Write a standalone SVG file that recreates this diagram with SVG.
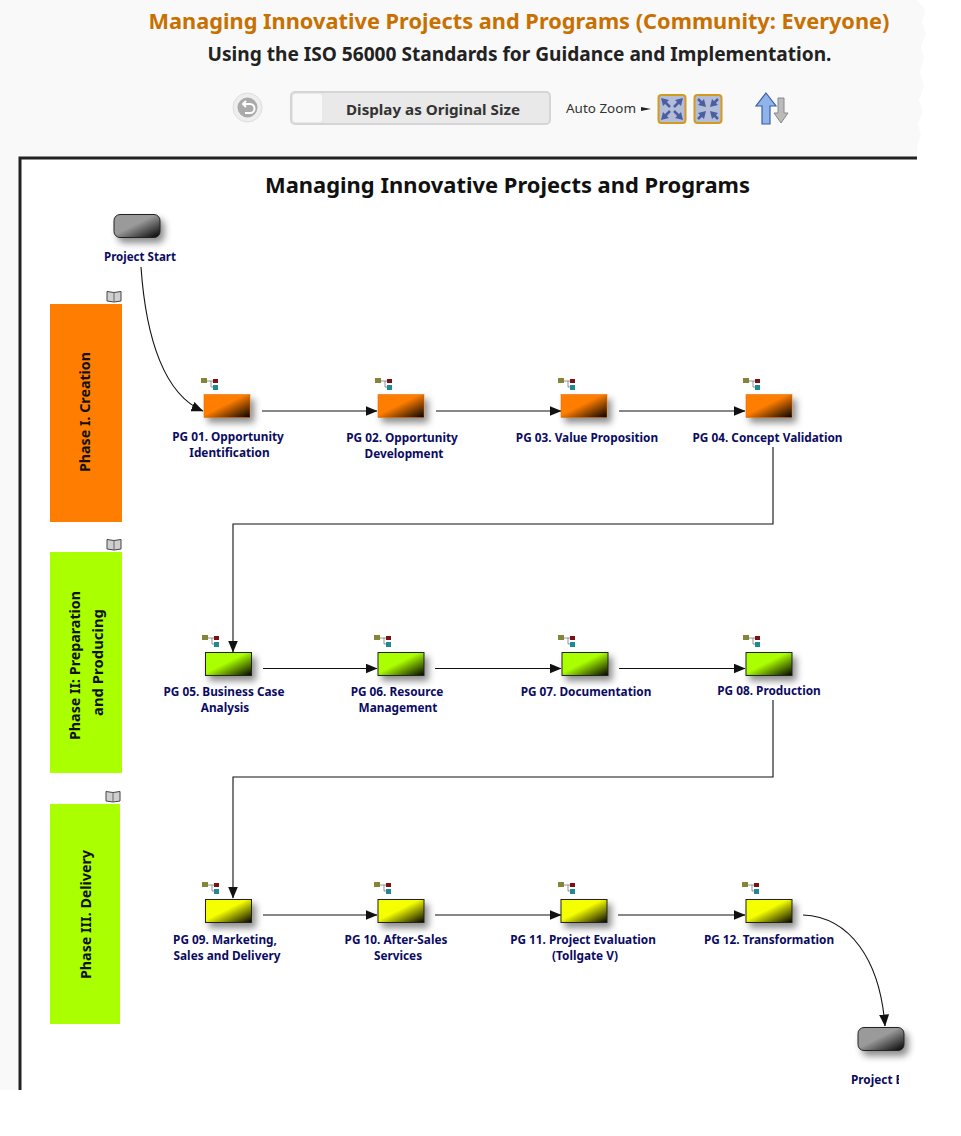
<svg xmlns="http://www.w3.org/2000/svg" width="961" height="1136" viewBox="0 0 961 1136">
<style>
.lbl{font:bold 11.800px "Noto Sans","DejaVu Sans",sans-serif;fill:#0b0b62;text-anchor:middle}
.ph{font:bold 14.500px "Noto Sans","DejaVu Sans",sans-serif;fill:#111;text-anchor:middle}
.c{fill:none;stroke:#111;stroke-width:1.1;marker-end:url(#ah)}
.n{stroke:#222;stroke-width:1;filter:url(#sh)}
.o{stroke:#d86a00;stroke-width:.5;filter:url(#sh)}
</style>
<defs>
<marker id="ah" viewBox="0 0 12 10" refX="11.500" refY="5" markerWidth="12" markerHeight="10" markerUnits="userSpaceOnUse" orient="auto"><path d="M0 0L12 5L0 10Z" fill="#111"/></marker>
<filter id="sh" x="-30%" y="-30%" width="170%" height="190%"><feDropShadow dx="4" dy="5" stdDeviation="3.500" flood-color="#000" flood-opacity=".45"/></filter>
<linearGradient id="go" x1="0" y1="0" x2="1" y2="1"><stop offset=".45" stop-color="#ff7d00"/><stop offset="1" stop-color="#000"/></linearGradient>
<linearGradient id="gg" x1="0" y1="0" x2="1" y2="1"><stop offset=".45" stop-color="#aaff00"/><stop offset="1" stop-color="#000"/></linearGradient>
<linearGradient id="gy" x1="0" y1="0" x2="1" y2="1"><stop offset=".45" stop-color="#f5ff00"/><stop offset="1" stop-color="#000"/></linearGradient>
<linearGradient id="gk" x1="0" y1="0" x2="1" y2="1"><stop offset=".45" stop-color="#9a9a9a"/><stop offset="1" stop-color="#000"/></linearGradient>
<g id="tree"><path d="M5 3H10V9H12M10 3H12" fill="none" stroke="#777" stroke-width=".8"/><rect x="0" y="0" width="6" height="5" fill="#85853a"/><rect x="12" y="1" width="5" height="4" fill="#7d1010"/><rect x="12" y="7" width="5" height="5" fill="#1f8a8f"/></g>
<g id="book"><path d="M0 1.500L7 2.500L14 1.500V11L7 12L0 11Z" fill="#cfcfcf" stroke="#444"/><path d="M7 2.500V12" stroke="#666"/></g>
</defs>
<path d="M0 0H917L925 10L922 22L926 34L921 46L924 58L920 72L924 86L919 100L923 112L918 124L921 136L917 146V160H22V1090H0Z" fill="#f9f9f9"/>
<path d="M20 1090V158H917" fill="none" stroke="#222" stroke-width="3"/>
<g id="header">
<text x="519" y="29" text-anchor="middle" style="font:bold 22px 'Noto Sans',sans-serif" fill="#c87000" textLength="741" lengthAdjust="spacingAndGlyphs">Managing Innovative Projects and Programs (Community: Everyone)</text>
<text x="519.500" y="61" text-anchor="middle" style="font:bold 19px 'Noto Sans',sans-serif" fill="#222" textLength="624" lengthAdjust="spacingAndGlyphs">Using the ISO 56000 Standards for Guidance and Implementation.</text>
<circle cx="247.500" cy="107.500" r="14.500" fill="#eee" stroke="#ddd"/><circle cx="247.500" cy="107.500" r="10" fill="#aaa"/><path d="M243 104H250A4.500 4.500 0 0 1 250 113H245M246 101L243 104L246 107" fill="none" stroke="#fff" stroke-width="2"/>
<rect x="291" y="92" width="259" height="32" rx="4" fill="#e9e9e9" stroke="#d5d5d5" stroke-width="2"/><rect x="293" y="94" width="29" height="28" rx="3" fill="#f8f8f8"/>
<text x="433" y="115" text-anchor="middle" style="font:bold 15px 'Noto Sans',sans-serif" fill="#333" textLength="174" lengthAdjust="spacingAndGlyphs">Display as Original Size</text>
<text x="601" y="113" text-anchor="middle" style="font:13px 'Noto Sans',sans-serif" fill="#333" textLength="70" lengthAdjust="spacingAndGlyphs">Auto Zoom</text>
<path d="M641 107L651 109L641 111Z" fill="#222"/>
<g id="zoom-in"><rect x="658.500" y="95" width="27" height="28" rx="3" fill="#b4bdd8" stroke="#d39a20" stroke-width="2"/><path d="M661 98L669 100L663 106ZM683 98L675 100L681 106ZM661 120L669 118L663 112ZM683 120L675 118L681 112Z" fill="#4b5fa0"/><path d="M664 101L670 107M680 101L674 107M664 117L670 111M680 117L674 111" stroke="#4b5fa0" stroke-width="2.500"/></g>
<g id="zoom-out"><rect x="694.500" y="95" width="27" height="28" rx="3" fill="#b4bdd8" stroke="#d39a20" stroke-width="2"/><path d="M706 107L698 105L704 99ZM710 107L718 105L712 99ZM706 111L698 113L704 119ZM710 111L718 113L712 119Z" fill="#4b5fa0"/><path d="M698 99L704 105M718 99L712 105M698 119L704 113M718 119L712 113" stroke="#4b5fa0" stroke-width="2.500"/></g>
<path d="M766 93L776 106H770V124H762V106H756Z" fill="#8fb4ea" stroke="#3a5ea8" stroke-width="1.200"/>
<path d="M778 98H784V113H788L781 123L774 113H778Z" fill="#bbb" stroke="#888" stroke-width="1"/>
</g>
<text x="507.500" y="193" text-anchor="middle" style="font:bold 21px 'Noto Sans',sans-serif" fill="#111" textLength="485" lengthAdjust="spacingAndGlyphs">Managing Innovative Projects and Programs</text>
<g id="connectors">
<path class="c" d="M141 267C146 340 165 395 203 411"/>
<path class="c" d="M262 411H377"/><path class="c" d="M436 411H561"/><path class="c" d="M619 411H745"/>
<path class="c" d="M773 447V524H233V652"/>
<path class="c" d="M263 668.500H377"/><path class="c" d="M435 668.500H561"/><path class="c" d="M619 668.500H745"/>
<path class="c" d="M773 700V777H233V898"/>
<path class="c" d="M263 915H377"/><path class="c" d="M435 915H561"/><path class="c" d="M618 915H745"/>
<path class="c" d="M803 915C850 917 880 960 885 1026"/>
</g>
<g id="phase-1"><use href="#book" x="107" y="290"/><rect x="50" y="304" width="72" height="218" fill="#ff7d00"/><text class="ph" transform="translate(90 412) rotate(-90)" textLength="120" lengthAdjust="spacingAndGlyphs">Phase I. Creation</text></g>
<g id="phase-2"><use href="#book" x="107" y="538"/><rect x="50" y="552" width="72" height="221" fill="#aaff00"/><text class="ph" transform="translate(80 665.500) rotate(-90)" textLength="149" lengthAdjust="spacingAndGlyphs">Phase II: Preparation</text><text class="ph" transform="translate(103 662.500) rotate(-90)" textLength="107" lengthAdjust="spacingAndGlyphs">and Producing</text></g>
<g id="phase-3"><use href="#book" x="106" y="790"/><rect x="50" y="804" width="70" height="220" fill="#aaff00"/><text class="ph" transform="translate(91 914.500) rotate(-90)" textLength="129" lengthAdjust="spacingAndGlyphs">Phase III. Delivery</text></g>
<g id="start"><rect class="n" x="114" y="214.500" width="46" height="23" rx="6" fill="url(#gk)"/><text class="lbl" x="140" y="261" textLength="72" lengthAdjust="spacingAndGlyphs">Project Start</text></g>
<g id="pg01"><use href="#tree" x="201" y="378"/><rect class="o" x="204" y="394.500" width="46" height="23" fill="url(#go)"/><text class="lbl" x="228" y="441">PG 01. Opportunity</text><text class="lbl" x="229.500" y="457">Identification</text></g>
<g id="pg02"><use href="#tree" x="375" y="378"/><rect class="o" x="378" y="394.500" width="46" height="23" fill="url(#go)"/><text class="lbl" x="402" y="442">PG 02. Opportunity</text><text class="lbl" x="404" y="458">Development</text></g>
<g id="pg03"><use href="#tree" x="558" y="378"/><rect class="o" x="561" y="394.500" width="46" height="23" fill="url(#go)"/><text class="lbl" x="587" y="442">PG 03. Value Proposition</text></g>
<g id="pg04"><use href="#tree" x="743" y="378"/><rect class="o" x="746" y="394.500" width="46" height="23" fill="url(#go)"/><text class="lbl" x="767.500" y="442">PG 04. Concept Validation</text></g>
<g id="pg05"><use href="#tree" x="202" y="635"/><rect class="n" x="205.500" y="652.500" width="46" height="23" fill="url(#gg)"/><text class="lbl" x="224" y="696">PG 05. Business Case</text><text class="lbl" x="225" y="712">Analysis</text></g>
<g id="pg06"><use href="#tree" x="374" y="635"/><rect class="n" x="378" y="652.500" width="46" height="23" fill="url(#gg)"/><text class="lbl" x="397" y="696">PG 06. Resource</text><text class="lbl" x="398" y="712">Management</text></g>
<g id="pg07"><use href="#tree" x="558" y="635"/><rect class="n" x="562" y="652.500" width="46" height="23" fill="url(#gg)"/><text class="lbl" x="586" y="696">PG 07. Documentation</text></g>
<g id="pg08"><use href="#tree" x="743" y="635"/><rect class="n" x="746" y="652.500" width="46" height="23" fill="url(#gg)"/><text class="lbl" x="769" y="695">PG 08. Production</text></g>
<g id="pg09"><use href="#tree" x="202" y="882"/><rect class="n" x="205.500" y="899.500" width="46" height="23" fill="url(#gy)"/><text class="lbl" x="225" y="944">PG 09. Marketing,</text><text class="lbl" x="227" y="960">Sales and Delivery</text></g>
<g id="pg10"><use href="#tree" x="374" y="882"/><rect class="n" x="378" y="899.500" width="46" height="23" fill="url(#gy)"/><text class="lbl" x="396" y="944">PG 10. After-Sales</text><text class="lbl" x="398" y="960">Services</text></g>
<g id="pg11"><use href="#tree" x="558" y="882"/><rect class="n" x="561" y="899.500" width="46" height="23" fill="url(#gy)"/><text class="lbl" x="583" y="944">PG 11. Project Evaluation</text><text class="lbl" x="585" y="960">(Tollgate V)</text></g>
<g id="pg12"><use href="#tree" x="742" y="882"/><rect class="n" x="746" y="899.500" width="46" height="23" fill="url(#gy)"/><text class="lbl" x="769" y="944">PG 12. Transformation</text></g>
<g id="end"><rect class="n" x="858" y="1027.500" width="46" height="23" rx="6" fill="url(#gk)"/><text class="lbl" x="851" y="1084" style="text-anchor:start">Project E</text><rect x="899" y="1070" width="12" height="20" fill="#fff"/></g>
</svg>
